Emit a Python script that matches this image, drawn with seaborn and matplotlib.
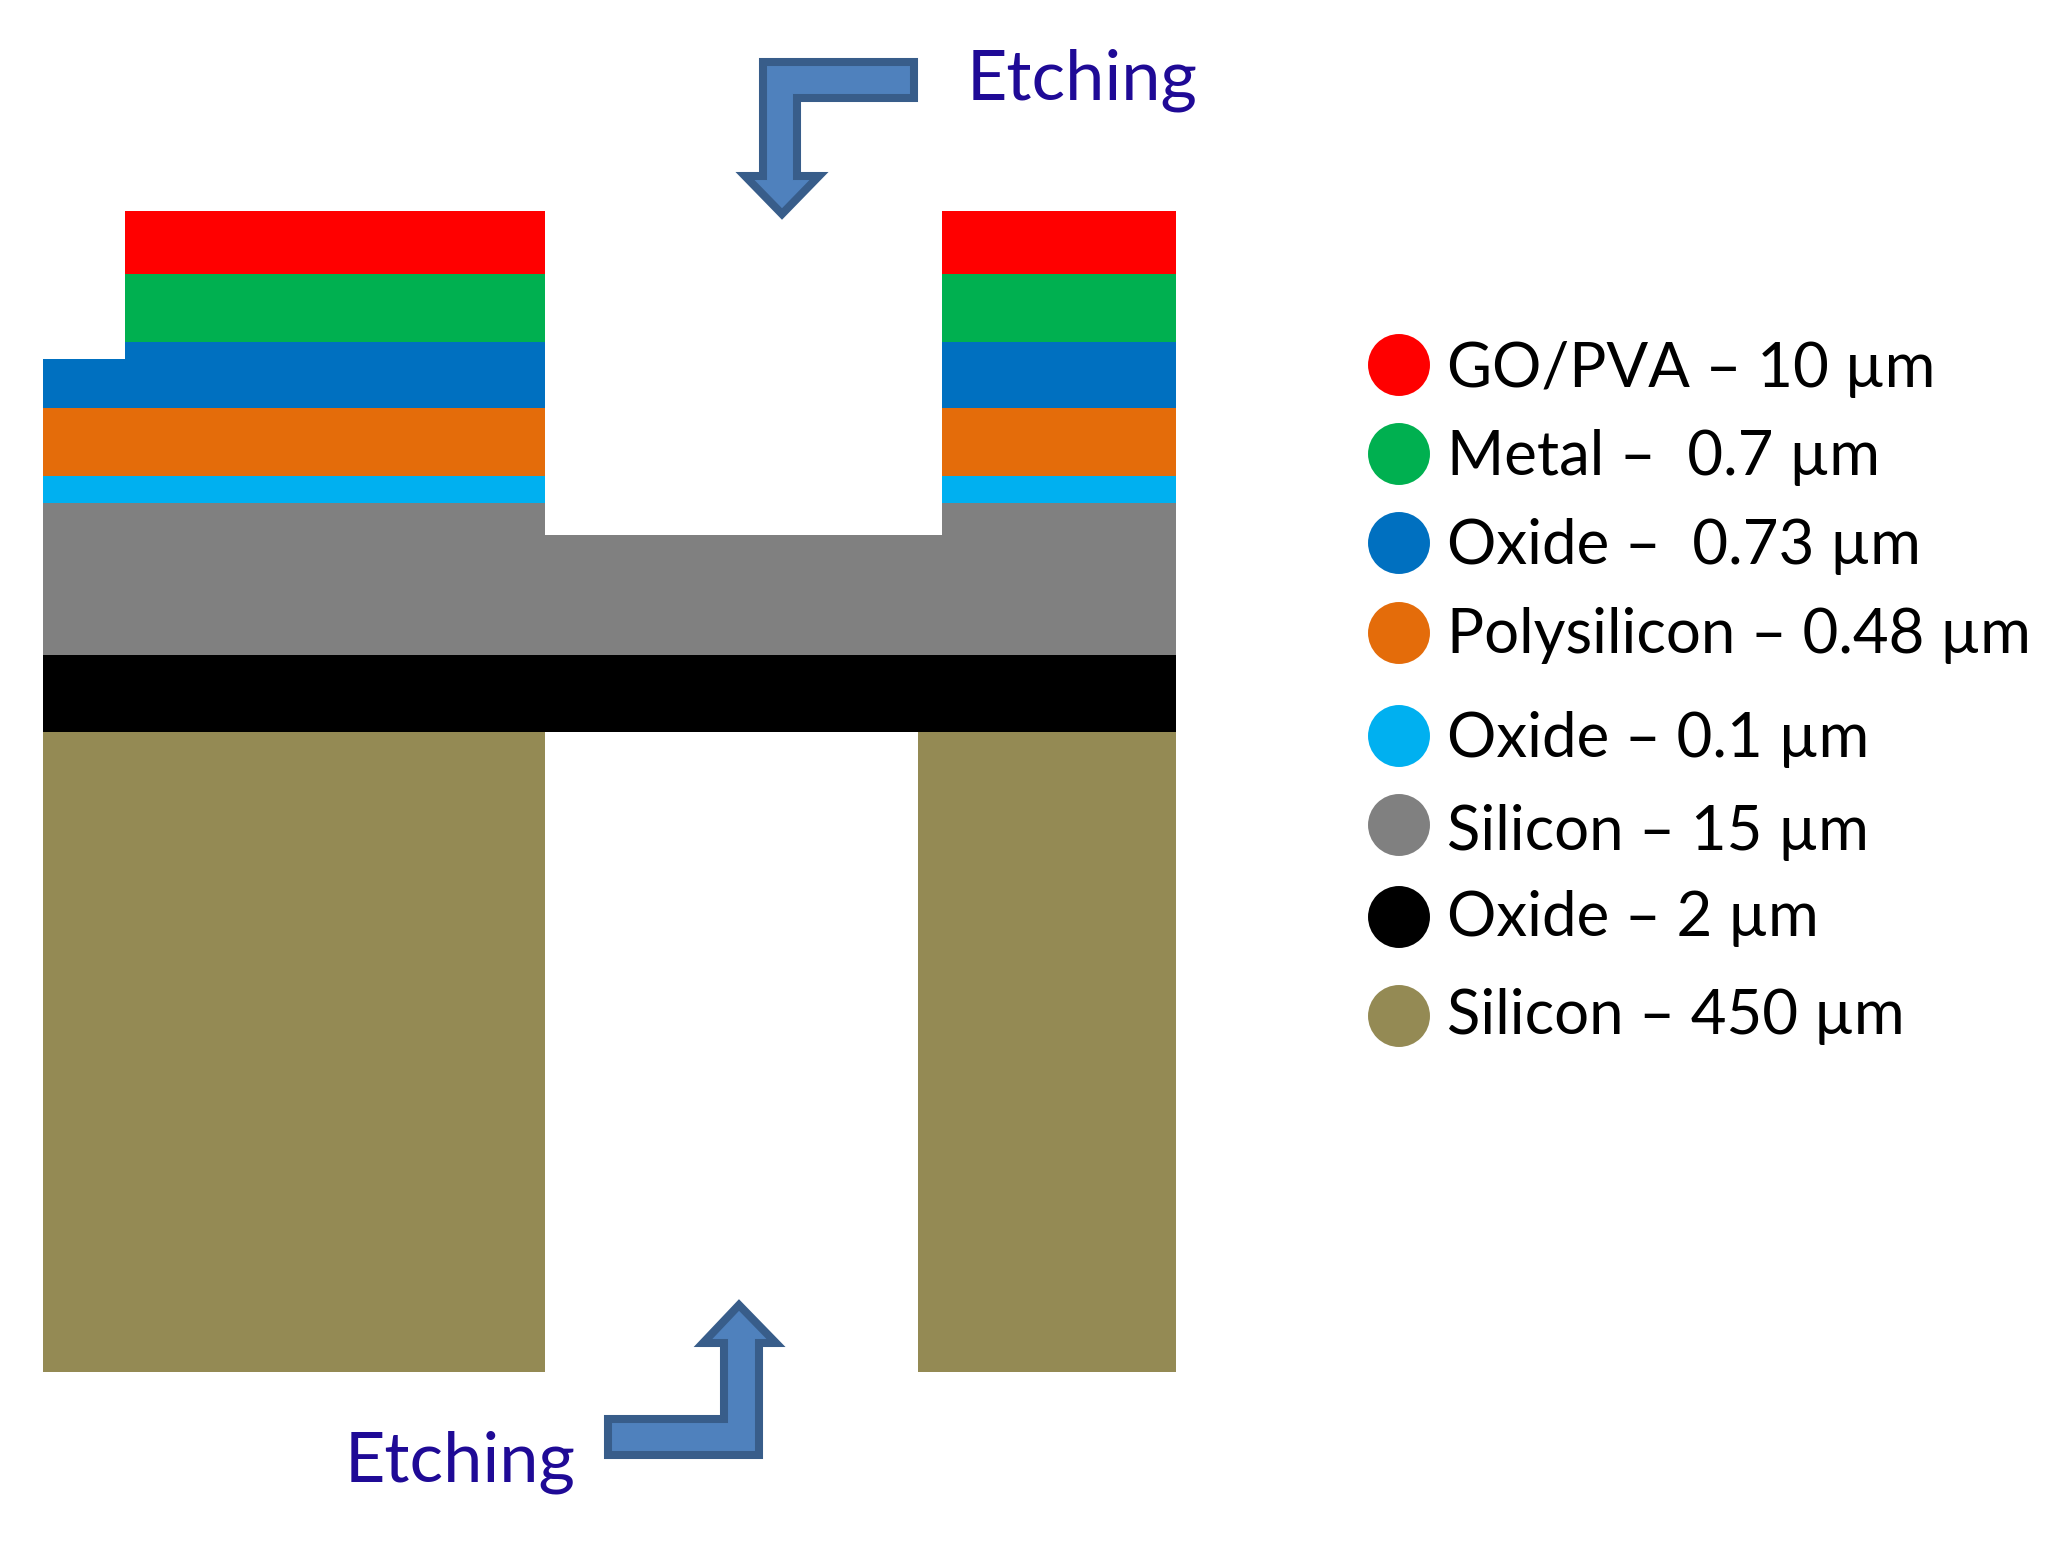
import matplotlib
matplotlib.use("Agg")
import matplotlib.pyplot as plt
from matplotlib.patches import Polygon
import seaborn as sns

sns.set_theme(style="white")
plt.rcParams['font.family'] = ['Lato', 'DejaVu Sans']

# cross-section segments: colour, left, right, top, bottom
seg_colors = ['#FF0000', '#FF0000', '#00B050', '#00B050',
              '#0070C0', '#0070C0', '#0070C0',
              '#E46C0A', '#E46C0A', '#00B0F0', '#00B0F0',
              '#808080', '#808080', '#808080', '#000000',
              '#948A54', '#948A54']
seg_left   = [125, 942, 125, 942, 125, 43, 942, 43, 942, 43, 942, 43, 545, 942, 43, 43, 918]
seg_right  = [545, 1176, 545, 1176, 545, 545, 1176, 545, 1176, 545, 1176, 545, 942, 1176, 1176, 545, 1176]
seg_top    = [211, 211, 274, 274, 342, 359, 342, 408, 408, 476, 476, 503, 535, 503, 655, 732, 732]
seg_bottom = [274, 274, 342, 342, 408, 408, 408, 476, 476, 503, 503, 655, 655, 655, 732, 1372, 1372]

# legend
legend_labels = ['GO/PVA – 10 µm', 'Metal –  0.7 µm', 'Oxide –  0.73 µm',
                 'Polysilicon – 0.48 µm', 'Oxide – 0.1 µm', 'Silicon – 15 µm',
                 'Oxide – 2 µm', 'Silicon – 450 µm']
legend_colors = ['#FF0000', '#00B050', '#0070C0', '#E46C0A',
                 '#00B0F0', '#808080', '#000000', '#948A54']
legend_y = [365, 454, 543, 633, 736, 825, 917, 1016]
legend_baseline = [387, 475, 564, 653, 757, 850, 936, 1034]

# arrows
arrow_top = [(763, 62), (914, 62), (914, 98), (797, 98), (797, 176), (819, 176),
             (782, 214), (745, 176), (763, 176)]
arrow_bottom = [(739, 1305), (776, 1343), (759, 1343), (759, 1455), (608, 1455),
                (608, 1419), (724, 1419), (724, 1343), (703, 1343)]

fig = plt.figure(figsize=(20.6, 15.44), dpi=100)
ax = fig.add_axes([0, 0, 1, 1])

for c, l, r, t, b in zip(seg_colors, seg_left, seg_right, seg_top, seg_bottom):
    ax.bar(l, b - t, width=r - l, bottom=t, align='edge', color=c, linewidth=0)

sns.scatterplot(x=[1399] * len(legend_y), y=legend_y, hue=legend_colors,
                palette=dict(zip(legend_colors, legend_colors)),
                s=1990, linewidth=0, legend=False, ax=ax)

for lab, y in zip(legend_labels, legend_baseline):
    ax.text(1447, y, lab, fontsize=44.5, color='black', va='baseline', ha='left')

for pts in (arrow_top, arrow_bottom):
    ax.add_patch(Polygon(pts, closed=True, facecolor='#4F81BD', edgecolor='#385D8A',
                         linewidth=5.8, joinstyle='miter'))

ax.text(967, 100, 'Etching', fontsize=50.5, color='#1F0A96', va='baseline', ha='left')
ax.text(345, 1481, 'Etching', fontsize=50.5, color='#1F0A96', va='baseline', ha='left')

ax.set_xlim(0, 2060)
ax.set_ylim(1544, 0)
ax.axis('off')
fig.savefig('out.png', dpi=100, facecolor='white')
